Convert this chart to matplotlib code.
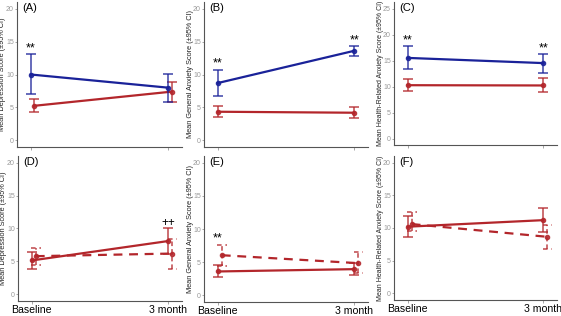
import matplotlib
matplotlib.use("Agg")
import matplotlib.pyplot as plt

plt.rcParams["font.family"] = ["Liberation Sans", "DejaVu Sans"]

# x positions: 0 = Baseline, 1 = 3 month
x_labels = ["Baseline", "3 month"]

# (A) depression
a_blue = [10.0, 8.0]
a_blue_lo = [7.0, 5.9]
a_blue_hi = [13.05, 10.1]
a_red = [5.25, 7.4]
a_red_lo = [4.35, 5.9]
a_red_hi = [6.25, 8.9]

# (B) general anxiety
b_blue = [8.7, 13.6]
b_blue_lo = [6.7, 12.85]
b_blue_hi = [10.65, 14.35]
b_red = [4.35, 4.2]
b_red_lo = [3.55, 3.35]
b_red_hi = [5.2, 5.1]

# (C) health-related anxiety
c_blue = [15.5, 14.5]
c_blue_lo = [13.3, 12.65]
c_blue_hi = [17.85, 16.3]
c_red = [10.25, 10.2]
c_red_lo = [9.1, 8.9]
c_red_hi = [11.45, 11.6]

# (D)-(F) solid vs dashed groups
d_solid = [5.15, 8.1]
d_solid_lo = [3.8, 6.2]
d_solid_hi = [6.4, 10.0]
d_dash = [5.8, 6.2]
d_dash_lo = [4.5, 3.9]
d_dash_hi = [7.1, 8.45]

e_solid = [3.6, 3.95]
e_solid_lo = [2.75, 3.0]
e_solid_hi = [4.55, 4.95]
e_dash = [6.05, 4.85]
e_dash_lo = [4.5, 3.4]
e_dash_hi = [7.65, 6.5]

f_solid = [10.2, 11.2]
f_solid_lo = [8.65, 9.4]
f_solid_hi = [11.8, 13.1]
f_dash = [10.6, 8.65]
f_dash_lo = [9.5, 6.85]
f_dash_hi = [12.5, 10.5]

blue = "#1a2299"
red = "#b3262b"

fig = plt.figure(figsize=(5.61, 3.16), dpi=100)
W, H = 561, 316


def make_ax(left, right, top, bottom):
    ax = fig.add_axes([left / W, 1 - bottom / H, (right - left) / W, (bottom - top) / H])
    ax._px_w = right - left
    return ax


def series(ax, y, lo, hi, color, dashed=False, dx=0.0):
    xs = [0 + dx, 1 + dx]
    yerr = [[y[i] - lo[i] for i in range(2)], [hi[i] - y[i] for i in range(2)]]
    ax.plot(xs, y, color=color, lw=1.6, ls=(0, (4, 3)) if dashed else "-", zorder=3)
    if not dashed:
        ax.errorbar(xs, y, yerr=yerr, fmt="o", color=color, ms=3, capsize=3.6,
                    elinewidth=1.1, capthick=1.1, alpha=0.85, zorder=4)
    else:
        eb = ax.errorbar(xs, y, yerr=yerr, fmt="o", color=color, ms=3, capsize=0,
                         elinewidth=1.1, alpha=0.85, zorder=4)
        for c in eb[2]:
            c.set_linestyle((0, (3, 2)))
        hw = 0.036
        ax.hlines(lo + hi, [x - hw for x in xs] * 2, [x + hw for x in xs] * 2,
                  colors=color, lw=1.1, alpha=0.85, linestyles=(0, (3, 2.5)), zorder=4)


def style(ax, label, ylabel, ymax, step, show_x, ysize=5.3):
    ax.set_xlim(-0.1, 1.1)
    ax.set_ylim(-ymax * 0.05, ymax * 1.05)
    ax.set_yticks(range(0, ymax + 1, step))
    ax.set_xticks([0, 1])
    if show_x:
        ax.set_xticklabels(x_labels, fontsize=7.6, color="black")
    else:
        ax.set_xticklabels([])
    for s in ("top", "right"):
        ax.spines[s].set_visible(False)
    for s in ("left", "bottom"):
        ax.spines[s].set_color("#555555")
        ax.spines[s].set_linewidth(0.8)
    ax.tick_params(axis="y", labelsize=5, colors="#999999", length=1.5, width=0.6, pad=0.8)
    ax.tick_params(axis="x", colors="#999999", length=2, width=0.6, pad=1, labelcolor="black")
    ax.set_ylabel(ylabel, fontsize=ysize, color="#222222")
    ax.yaxis.set_label_coords(-10.5 / ax._px_w, 0.5)
    ax.text(0.03, 0.995, label, transform=ax.transAxes, fontsize=8, va="top", ha="left")


ax_a = make_ax(17, 182, 2, 147)
series(ax_a, a_red, a_red_lo, a_red_hi, red, dx=0.025)
series(ax_a, a_blue, a_blue_lo, a_blue_hi, blue)
style(ax_a, "(A)", "Mean Depression Score (±95% CI)", 20, 5, False)
ax_a.text(0, 13.1, "**", ha="center", va="bottom", fontsize=9)

ax_b = make_ax(204, 368, 2, 147)
series(ax_b, b_red, b_red_lo, b_red_hi, red)
series(ax_b, b_blue, b_blue_lo, b_blue_hi, blue)
style(ax_b, "(B)", "Mean General Anxiety Score (±95% CI)", 20, 5, False)
ax_b.text(0, 10.7, "**", ha="center", va="bottom", fontsize=9)
ax_b.text(1, 14.3, "**", ha="center", va="bottom", fontsize=9)

ax_c = make_ax(394, 557, 2, 145)
series(ax_c, c_red, c_red_lo, c_red_hi, red)
series(ax_c, c_blue, c_blue_lo, c_blue_hi, blue)
style(ax_c, "(C)", "Mean Health-Related Anxiety Score (±95% CI)", 25, 5, False, ysize=5.0)
ax_c.text(0, 17.8, "**", ha="center", va="bottom", fontsize=9)
ax_c.text(1, 16.2, "**", ha="center", va="bottom", fontsize=9)

ax_d = make_ax(18, 182, 156, 301)
series(ax_d, d_dash, d_dash_lo, d_dash_hi, red, dashed=True, dx=0.03)
series(ax_d, d_solid, d_solid_lo, d_solid_hi, red)
style(ax_d, "(D)", "Mean Depression Score (±95% CI)", 20, 5, True)
ax_d.text(1, 9.9, "++", ha="center", va="bottom", fontsize=8.5)

ax_e = make_ax(204, 368, 156, 302)
series(ax_e, e_dash, e_dash_lo, e_dash_hi, red, dashed=True, dx=0.03)
series(ax_e, e_solid, e_solid_lo, e_solid_hi, red)
style(ax_e, "(E)", "Mean General Anxiety Score (±95% CI)", 20, 5, True)
ax_e.text(0, 7.6, "**", ha="center", va="bottom", fontsize=9)

ax_f = make_ax(394, 557, 156, 300)
series(ax_f, f_dash, f_dash_lo, f_dash_hi, red, dashed=True, dx=0.03)
series(ax_f, f_solid, f_solid_lo, f_solid_hi, red)
style(ax_f, "(F)", "Mean Health-Related Anxiety Score (±95% CI)", 20, 5, True, ysize=5.0)

fig.savefig("out.png", dpi=100)
